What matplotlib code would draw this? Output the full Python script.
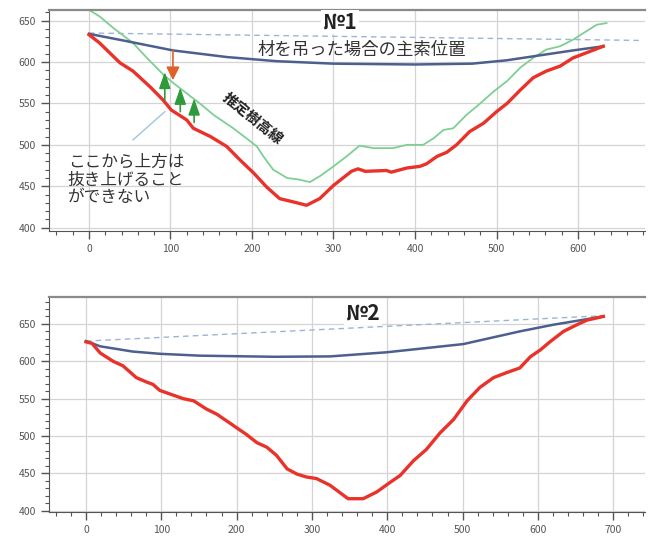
import matplotlib.pyplot as plt
from matplotlib.ticker import MultipleLocator

plt.rcParams["font.family"] = ["Noto Sans CJK JP", "DejaVu Sans"]

# No.1 : ground profile (red), estimated tree height (green), main cable (blue)
top_ground_x = [0, 13, 38, 54, 75, 91, 101, 120, 128, 149, 169, 185, 202, 218,
                234, 251, 267, 283, 300, 322, 330, 339, 365, 371, 390, 406, 414,
                427, 439, 451, 467, 484, 500, 513, 529, 545, 561, 578, 594, 610, 631]
top_ground_y = [633, 623, 599, 589, 570, 554, 542, 530, 520, 510, 498, 482, 466, 449,
                435, 431, 427, 435, 451, 468, 471, 468, 469, 467, 472, 474, 477,
                486, 491, 500, 516, 526, 540, 550, 566, 581, 589, 595, 605, 611, 619]

top_tree_x = [0, 13, 30, 54, 71, 91, 103, 120, 136, 153, 177, 193, 206, 214, 226,
              243, 258, 271, 283, 300, 316, 332, 349, 373, 390, 410, 423, 435, 447,
              463, 480, 496, 513, 529, 545, 561, 578, 594, 610, 623, 635]
top_tree_y = [663, 655, 641, 623, 605, 585, 575, 562, 550, 536, 520, 508, 498, 486, 470,
              460, 458, 455, 462, 474, 486, 499, 496, 496, 500, 500, 508, 518, 520,
              536, 550, 564, 577, 593, 605, 615, 619, 627, 637, 645, 647]

top_cable_x = [0, 42, 103, 169, 230, 300, 400, 470, 512, 553, 594, 631]
top_cable_y = [634, 626, 614, 606, 601, 598, 597, 598, 602, 608, 614, 619]

top_chord_x = [0, 680]
top_chord_y = [635, 626]

# No.2 : ground profile (red) and main cable (blue)
bottom_ground_x = [0, 8, 19, 36, 49, 67, 81, 89, 98, 112, 129, 143, 160, 174, 187,
                   200, 213, 227, 240, 253, 267, 280, 293, 306, 324, 348, 368, 386,
                   404, 417, 435, 452, 470, 488, 506, 523, 541, 559, 576, 590, 603,
                   616, 634, 652, 665, 687]
bottom_ground_y = [626, 624, 611, 600, 594, 578, 572, 569, 561, 556, 550, 547, 536, 529, 520,
                   511, 502, 491, 485, 474, 456, 449, 445, 443, 434, 416, 416, 425,
                   438, 447, 467, 482, 504, 522, 547, 565, 578, 585, 591, 606, 615,
                   626, 640, 649, 655, 660]

bottom_cable_x = [0, 19, 62, 98, 151, 250, 324, 399, 501, 576, 621, 687]
bottom_cable_y = [627, 620, 613, 610, 607.5, 606, 606.5, 612, 623, 640, 649, 660]

bottom_chord_x = [0, 687]
bottom_chord_y = [627, 661]

# Tree marks (x, foot, top) and the load arrow (x, from, to)
tree_marks = [(93, 554, 588), (112, 540, 569), (129, 527, 556)]
load_arrow = (103, 614, 578)

RED = "#e8322a"
GREEN = "#7fcf93"
BLUE = "#4d5f8e"
CHORD = "#9db4d6"
TEXT = "#333333"


def style_axes(ax, xlim, ylim):
    """Grid, ticks and spines shared by both panels."""
    ax.set_xlim(*xlim)
    ax.set_ylim(*ylim)
    ax.xaxis.set_major_locator(MultipleLocator(100))
    ax.xaxis.set_minor_locator(MultipleLocator(20))
    ax.yaxis.set_major_locator(MultipleLocator(50))
    ax.yaxis.set_minor_locator(MultipleLocator(10))
    ax.grid(True, which="major", color="#d4d4d4", linewidth=0.9)
    ax.set_axisbelow(True)
    ax.tick_params(which="major", length=6, width=1, color="#555555",
                   labelsize=7.5, labelcolor="#555555")
    ax.tick_params(which="minor", length=3, width=0.8, color="#555555")
    for side in ("left", "bottom"):
        ax.spines[side].set_color("#555555")
    ax.spines["top"].set_color("#8a8a8a")
    ax.spines["top"].set_linewidth(1.6)
    ax.spines["right"].set_visible(False)


fig = plt.figure(figsize=(6.54, 5.46), dpi=100)
ax1 = fig.add_axes([0.075, 0.577, 0.911, 0.405])
ax2 = fig.add_axes([0.075, 0.062, 0.911, 0.394])

# ---- No.1 ----
style_axes(ax1, (-49, 682), (396, 663))
ax1.plot(top_chord_x, top_chord_y, color=CHORD, linewidth=1, linestyle=(0, (4, 3)))
ax1.plot(top_tree_x, top_tree_y, color=GREEN, linewidth=1.3)
ax1.plot(top_cable_x, top_cable_y, color=BLUE, linewidth=1.8)
ax1.plot(top_ground_x, top_ground_y, color=RED, linewidth=2.4)

# Trees that cannot be lifted out
for x, foot, top in tree_marks:
    ax1.annotate(
        "",
        xy=(x, top),
        xytext=(x, foot),
        arrowprops={
            "arrowstyle": "-|>,head_length=1.0,head_width=0.35",
            "color": "#2e9a3c",
            "linewidth": 1.2,
            "shrinkA": 0,
            "shrinkB": 0,
        },
    )

# Load on the cable
ax1.annotate(
    "",
    xy=(load_arrow[0], load_arrow[2]),
    xytext=(load_arrow[0], load_arrow[1]),
    arrowprops={
        "arrowstyle": "-|>,head_length=0.8,head_width=0.4",
        "color": "#e0602a",
        "linewidth": 1.2,
        "shrinkA": 0,
        "shrinkB": 0,
    },
)

# Leader line for the note
ax1.plot([54, 93], [506, 540], color="#9cc7e0", linewidth=1)

ax1.text(0.488, 0.945, "№1", transform=ax1.transAxes, fontsize=15,
         fontweight="bold", color="#222222", ha="center", va="center",
         bbox={"facecolor": "white", "edgecolor": "none", "pad": 1})
ax1.text(335, 615, "材を吊った場合の主索位置", fontsize=12.5, color=TEXT,
         ha="center", va="center")
ax1.text(201, 532, "推定樹高線", fontsize=10.5, fontweight="bold", color="#222222",
         ha="center", va="center", rotation=-39, rotation_mode="anchor")
ax1.text(-26, 489, "ここから上方は\n抜き上げること\nができない", fontsize=12,
         color=TEXT, ha="left", va="top", linespacing=1.05)

# ---- No.2 ----
style_axes(ax2, (-49, 742), (398, 686))
ax2.plot(bottom_chord_x, bottom_chord_y, color=CHORD, linewidth=1, linestyle=(0, (4, 3)))
ax2.plot(bottom_cable_x, bottom_cable_y, color=BLUE, linewidth=1.8)
ax2.plot(bottom_ground_x, bottom_ground_y, color=RED, linewidth=2.4)

ax2.text(0.527, 0.925, "№2", transform=ax2.transAxes, fontsize=15,
         fontweight="bold", color="#222222", ha="center", va="center",
         bbox={"facecolor": "white", "edgecolor": "none", "pad": 1})

fig.savefig("out.png", dpi=100)
